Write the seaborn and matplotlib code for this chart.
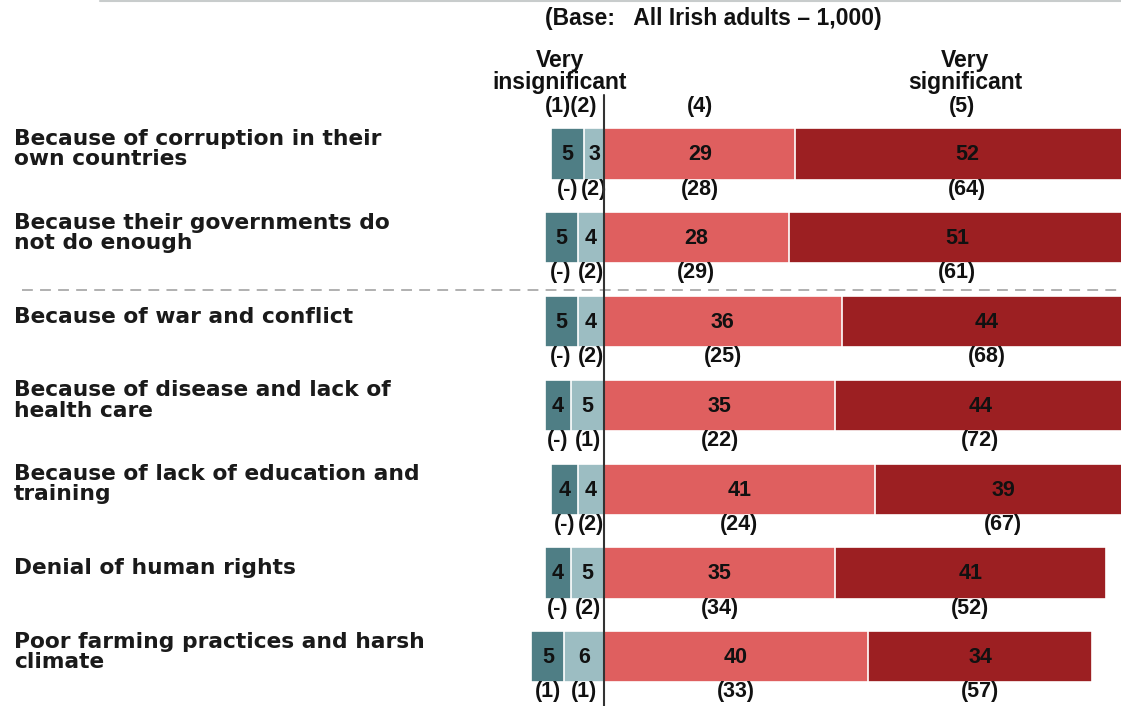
import matplotlib
matplotlib.use("Agg")
import matplotlib.pyplot as plt
from matplotlib.lines import Line2D
from matplotlib import font_manager as fm
import seaborn as sns
import pandas as pd

# Reasons and survey shares (%) by significance score
reasons = [
    "Because of corruption in their\nown countries",
    "Because their governments do\nnot do enough",
    "Because of war and conflict",
    "Because of disease and lack of\nhealth care",
    "Because of lack of education and\ntraining",
    "Denial of human rights",
    "Poor farming practices and harsh\nclimate",
]
very_insig = [5, 5, 5, 4, 4, 4, 5]   # (1)
insig = [3, 4, 4, 5, 4, 5, 6]        # (2)
sig = [29, 28, 36, 35, 41, 35, 40]   # (4)
very_sig = [52, 51, 44, 44, 39, 41, 34]  # (5)

# Previous wave figures shown in brackets
prev_1 = ["(-)", "(-)", "(-)", "(-)", "(-)", "(-)", "(1)"]
prev_2 = ["(2)", "(2)", "(2)", "(1)", "(2)", "(2)", "(1)"]
prev_4 = ["(28)", "(29)", "(25)", "(22)", "(24)", "(34)", "(33)"]
prev_5 = ["(64)", "(61)", "(68)", "(72)", "(67)", "(52)", "(57)"]

C1 = "#4f7e85"
C2 = "#9cbdc2"
C4 = "#df5f5f"
C5 = "#9c1f22"

sns.set_theme(style="white")
plt.rcParams["font.family"] = ["Liberation Sans", "DejaVu Sans"]


def bold_sans_file():
    """Regular-width Liberation Sans Bold (not the Narrow cut)."""
    for f in fm.fontManager.ttflist:
        name = f.fname.lower()
        if f.name == "Liberation Sans" and f.weight in (700, "bold") \
                and "narrow" not in name and "italic" not in name \
                and f.style == "normal":
            return f.fname
    return None


_bf = bold_sans_file()


def num_props(size):
    if _bf:
        return fm.FontProperties(fname=_bf, size=size)
    return fm.FontProperties(family="DejaVu Sans", weight="bold", size=size)


df = pd.DataFrame({
    "reason": reasons,
    "neg_total": [-(a + b) for a, b in zip(very_insig, insig)],
    "neg_inner": [-b for b in insig],
    "pos_total": [a + b for a, b in zip(sig, very_sig)],
    "pos_inner": sig,
})

fig = plt.figure(figsize=(11.21, 7.06), dpi=100)
ax = fig.add_axes([0, 0, 1, 1])

W = 0.61
common = dict(data=df, y="reason", orient="h", width=W, edgecolor="white",
              linewidth=1.2, ax=ax, saturation=1)
sns.barplot(x="pos_total", color=C5, **common)
sns.barplot(x="pos_inner", color=C4, **common)
sns.barplot(x="neg_total", color=C1, **common)
sns.barplot(x="neg_inner", color=C2, **common)

PX = 6.6  # pixels per percentage point
ax.set_xlim(-604 / PX, (1121 - 604) / PX)
ax.set_ylim((706 - 154) / 83.8, -154 / 83.8)
ax.axis("off")

NS = 15.5   # numbers
HS = 16.5   # header words
TXT = "#111111"

for i in range(len(reasons)):
    a, b, c, d = very_insig[i], insig[i], sig[i], very_sig[i]
    centers = [-b - a / 2, -b / 2, c / 2, c + d / 2]
    for x, v in zip(centers, [a, b, c, d]):
        ax.text(x, i + 0.01, str(v), ha="center", va="center",
                fontproperties=num_props(NS), color=TXT)
    for x, t in zip(centers, [prev_1[i], prev_2[i], prev_4[i], prev_5[i]]):
        ax.text(x, i + 0.42, t, ha="center", va="center",
                fontproperties=num_props(NS), color=TXT)
    ax.text(-604 / PX + 14 / PX, i - 0.06, reasons[i], ha="left", va="center",
            fontsize=15.7, fontfamily="DejaVu Sans", fontweight="bold",
            color="#1a1a1a", linespacing=1.02)

# Zero line and group divider
ax.plot([0, 0], [-0.70, 7], color="#333333", lw=1.5, zorder=5)
ax.plot([-604 / PX + 22 / PX, 100], [1.62, 1.62], color="#aaaaaa", lw=1.3,
        ls=(0, (6, 4)), zorder=1)

# Header
ax.text(16.5, -1.62, "(Base:   All Irish adults \u2013 1,000)", ha="center", va="center",
        fontproperties=num_props(HS), color=TXT)
ax.text(-6.7, -0.98, "Very\ninsignificant", ha="center", va="center",
        fontproperties=num_props(HS), linespacing=0.95, color=TXT)
ax.text(54.7, -0.98, "Very\nsignificant", ha="center", va="center",
        fontproperties=num_props(HS), linespacing=0.95, color=TXT)
ax.text(-5, -0.57, "(1)(2)", ha="center", va="center", fontproperties=num_props(NS), color=TXT)
ax.text(14.5, -0.57, "(4)", ha="center", va="center", fontproperties=num_props(NS), color=TXT)
ax.text(54.2, -0.57, "(5)", ha="center", va="center", fontproperties=num_props(NS), color=TXT)

fig.add_artist(Line2D([100 / 1121, 1], [1 - 1 / 706, 1 - 1 / 706],
                      transform=fig.transFigure, color="#c8cccc", lw=1.5))

fig.savefig("out.png", dpi=100)
